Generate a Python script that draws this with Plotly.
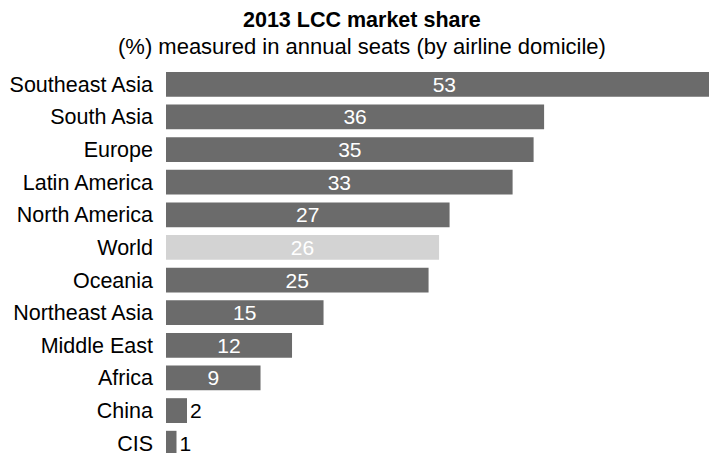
import plotly.graph_objects as go

# LCC share of annual seats by region of airline domicile, 2013 (%)
regions = ["Southeast Asia", "South Asia", "Europe", "Latin America", "North America",
           "World", "Oceania", "Northeast Asia", "Middle East", "Africa", "China", "CIS"]
share = [53, 36, 35, 33, 27, 26, 25, 15, 12, 9, 2, 1]

title_text = "2013 LCC market share"
subtitle_text = "(%) measured in annual seats (by airline domicile)"

DARK = "#6b6b6b"
LIGHT = "#d3d3d3"
FONT = "Liberation Sans, Arial, Helvetica, sans-serif"

colors = [LIGHT if r == "World" else DARK for r in regions]
positions = ["outside" if v < 5 else "inside" for v in share]

fig = go.Figure(
    go.Bar(
        x=share,
        y=regions,
        orientation="h",
        marker=dict(color=colors, line=dict(width=0)),
        text=[str(v) for v in share],
        textposition=positions,
        textangle=0,
        insidetextanchor="middle",
        constraintext="none",
        insidetextfont=dict(color="white", size=21, family=FONT),
        outsidetextfont=dict(color="black", size=21, family=FONT),
        cliponaxis=True,
        hoverinfo="skip",
    )
)

fig.update_layout(
    width=709,
    height=456,
    autosize=False,
    margin=dict(l=166, r=0, t=68, b=0),
    paper_bgcolor="white",
    plot_bgcolor="white",
    bargap=0.24,
    showlegend=False,
    font=dict(family=FONT, color="black"),
    xaxis=dict(range=[0, 51.7], visible=False, fixedrange=True),
    yaxis=dict(
        categoryorder="array",
        categoryarray=regions,
        range=[11.3, -0.5],
        showgrid=False,
        zeroline=False,
        showline=False,
        ticks="",
        ticklabelstandoff=12,
        tickfont=dict(size=21.5, family=FONT, color="black"),
    ),
    annotations=[
        dict(text="<b>" + title_text + "</b>", xref="paper", yref="paper",
             x=0.361, y=1.124, xanchor="center", yanchor="middle", showarrow=False,
             font=dict(size=21.5, family=FONT, color="black")),
        dict(text=subtitle_text, xref="paper", yref="paper",
             x=0.361, y=1.057, xanchor="center", yanchor="middle", showarrow=False,
             font=dict(size=22, family=FONT, color="black")),
    ],
)

fig.write_html("out.html")
